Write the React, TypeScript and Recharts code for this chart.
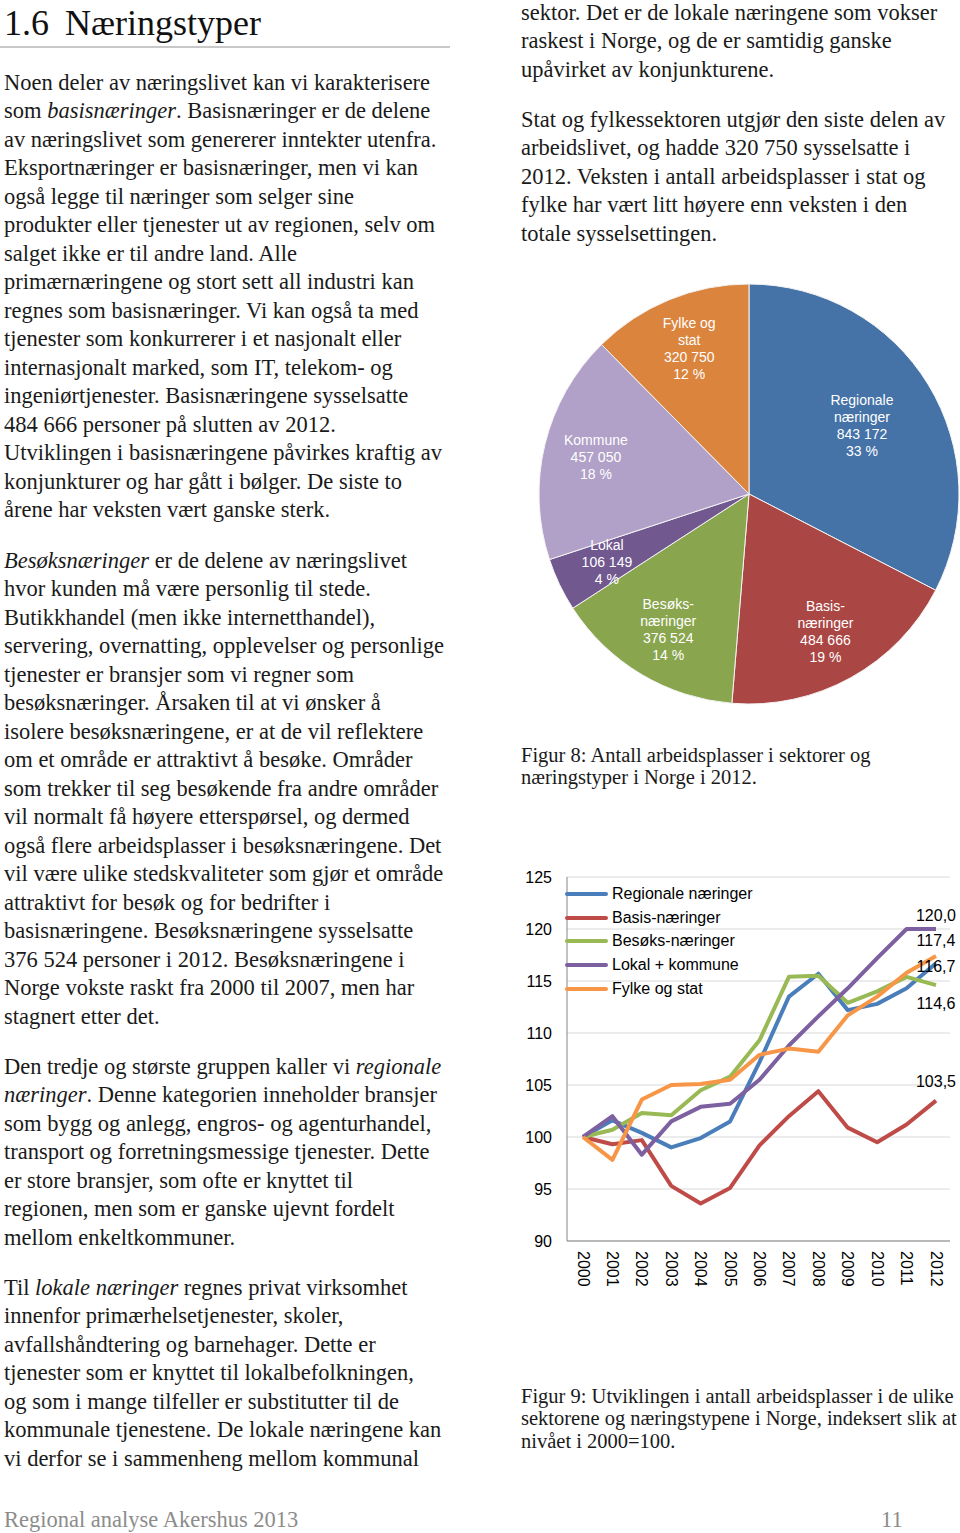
import { LineChart, Line, XAxis, YAxis, CartesianGrid, Legend, PieChart, Pie, Cell } from 'recharts';

// Figur 8: arbeidsplasser per sektor 2012
const sectorNames = ['Regionale næringer', 'Basis-næringer', 'Besøks-næringer', 'Lokal', 'Kommune', 'Fylke og stat'];
const sectorLabelLines = [['Regionale', 'næringer'], ['Basis-', 'næringer'], ['Besøks-', 'næringer'], ['Lokal'], ['Kommune'], ['Fylke og', 'stat']];
const sectorJobs = [843172, 484666, 376524, 106149, 457050, 320750];
const sectorShares = ['33 %', '19 %', '14 %', '4 %', '18 %', '12 %'];
const sectorColors = ['#4572a7', '#aa4643', '#89a54e', '#71588f', '#b1a0c7', '#db843d'];

// Figur 9: indeks 2000=100
const years = ['2000', '2001', '2002', '2003', '2004', '2005', '2006', '2007', '2008', '2009', '2010', '2011', '2012'];
const regionale = [100, 101.6, 100.4, 99.0, 99.9, 101.5, 107.2, 113.5, 115.7, 112.2, 112.8, 114.3, 116.7];
const basis = [100, 99.3, 99.7, 95.3, 93.6, 95.1, 99.2, 102.0, 104.4, 100.9, 99.5, 101.2, 103.5];
const besoks = [100, 100.7, 102.3, 102.1, 104.5, 105.8, 109.3, 115.4, 115.5, 112.9, 114.0, 115.4, 114.6];
const lokalKommune = [100, 102.0, 98.3, 101.5, 102.9, 103.2, 105.5, 108.8, 111.6, 114.3, 117.2, 120.0, 120.0];
const fylkeStat = [100, 97.8, 103.6, 105.0, 105.1, 105.5, 107.9, 108.5, 108.2, 111.7, 113.5, 115.8, 117.4];
const yTicks = [90, 95, 100, 105, 110, 115, 120, 125];

const leftText1 = [
  'Noen deler av næringslivet kan vi karakterisere',
  'som *basisnæringer*. Basisnæringer er de delene',
  'av næringslivet som genererer inntekter utenfra.',
  'Eksportnæringer er basisnæringer, men vi kan',
  'også legge til næringer som selger sine',
  'produkter eller tjenester ut av regionen, selv om',
  'salget ikke er til andre land. Alle',
  'primærnæringene og stort sett all industri kan',
  'regnes som basisnæringer. Vi kan også ta med',
  'tjenester som konkurrerer i et nasjonalt eller',
  'internasjonalt marked, som IT, telekom- og',
  'ingeniørtjenester. Basisnæringene sysselsatte',
  '484 666 personer på slutten av 2012.',
  'Utviklingen i basisnæringene påvirkes kraftig av',
  'konjunkturer og har gått i bølger. De siste to',
  'årene har veksten vært ganske sterk.',
];
const leftText2 = [
  '*Besøksnæringer* er de delene av næringslivet',
  'hvor kunden må være personlig til stede.',
  'Butikkhandel (men ikke internetthandel),',
  'servering, overnatting, opplevelser og personlige',
  'tjenester er bransjer som vi regner som',
  'besøksnæringer. Årsaken til at vi ønsker å',
  'isolere besøksnæringene, er at de vil reflektere',
  'om et område er attraktivt å besøke. Områder',
  'som trekker til seg besøkende fra andre områder',
  'vil normalt få høyere etterspørsel, og dermed',
  'også flere arbeidsplasser i besøksnæringene. Det',
  'vil være ulike stedskvaliteter som gjør et område',
  'attraktivt for besøk og for bedrifter i',
  'basisnæringene. Besøksnæringene sysselsatte',
  '376 524 personer i 2012. Besøksnæringene i',
  'Norge vokste raskt fra 2000 til 2007, men har',
  'stagnert etter det.',
];
const leftText3 = [
  'Den tredje og største gruppen kaller vi *regionale*',
  '*næringer*. Denne kategorien inneholder bransjer',
  'som bygg og anlegg, engros- og agenturhandel,',
  'transport og forretningsmessige tjenester. Dette',
  'er store bransjer, som ofte er knyttet til',
  'regionen, men som er ganske ujevnt fordelt',
  'mellom enkeltkommuner.',
];
const leftText4 = [
  'Til *lokale næringer* regnes privat virksomhet',
  'innenfor primærhelsetjenester, skoler,',
  'avfallshåndtering og barnehager. Dette er',
  'tjenester som er knyttet til lokalbefolkningen,',
  'og som i mange tilfeller er substitutter til de',
  'kommunale tjenestene. De lokale næringene kan',
  'vi derfor se i sammenheng mellom kommunal',
];
const rightText1 = [
  'sektor. Det er de lokale næringene som vokser',
  'raskest i Norge, og de er samtidig ganske',
  'upåvirket av konjunkturene.',
];
const rightText2 = [
  'Stat og fylkessektoren utgjør den siste delen av',
  'arbeidslivet, og hadde 320 750 sysselsatte i',
  '2012. Veksten i antall arbeidsplasser i stat og',
  'fylke har vært litt høyere enn veksten i den',
  'totale sysselsettingen.',
];
const caption8 = ['Figur 8: Antall arbeidsplasser i sektorer og', 'næringstyper i Norge i 2012.'];
const caption9 = [
  'Figur 9: Utviklingen i antall arbeidsplasser i de ulike',
  'sektorene og næringstypene i Norge, indeksert slik at',
  'nivået i 2000=100.',
];

const pieData = sectorNames.map((name, i) => ({ name, value: sectorJobs[i] }));
const lineData = years.map((year, i) => ({
  year,
  regionale: regionale[i],
  basis: basis[i],
  besoks: besoks[i],
  lokalKommune: lokalKommune[i],
  fylkeStat: fylkeStat[i],
}));

const series = [
  { key: 'regionale', name: 'Regionale næringer', color: '#4a7ebb', labelDy: 3 },
  { key: 'basis', name: 'Basis-næringer', color: '#be4b48', labelDy: -19 },
  { key: 'besoks', name: 'Besøks-næringer', color: '#98b954', labelDy: 18 },
  { key: 'lokalKommune', name: 'Lokal + kommune', color: '#7d60a0', labelDy: -14 },
  { key: 'fylkeStat', name: 'Fylke og stat', color: '#f79646', labelDy: -16 },
];

const SANS = '"Liberation Sans", Arial, sans-serif';
const SERIF = '"Liberation Serif", "Times New Roman", serif';
const RAD = Math.PI / 180;

const fmtThousands = (n: number) => String(n).replace(/\B(?=(\d{3})+(?!\d))/g, ' ');

function rich(s: string) {
  return s.split('*').map((p, i) => (i % 2 ? <i key={i}>{p}</i> : <span key={i}>{p}</span>));
}

function TextBlock({ x, y, lines, size = 22.5, lh = 28.5, color = '#1a1a1a' }: any) {
  return (
    <div style={{ position: 'absolute', left: x, top: y - lh / 2 + 1, fontSize: size, lineHeight: `${lh}px`, color, whiteSpace: 'nowrap' }}>
      {lines.map((l: string, i: number) => (
        <div key={i}>{rich(l)}</div>
      ))}
    </div>
  );
}

const renderPieLabel = (props: any) => {
  const { cx, cy, midAngle, outerRadius, index, percent } = props;
  // big slice gets its label a bit closer to the centre, like Excel's best fit
  const r = outerRadius * (percent > 0.3 ? 0.63 : 0.75);
  const x = cx + r * Math.cos(-midAngle * RAD);
  const y = cy + r * Math.sin(-midAngle * RAD);
  const lines = [...sectorLabelLines[index], fmtThousands(sectorJobs[index]), sectorShares[index]];
  const start = y - ((lines.length - 1) * 17) / 2;
  return (
    <text key={index} x={x} y={start} fill="#fff" fontSize={14} fontFamily={SANS} textAnchor="middle" dominantBaseline="central">
      {lines.map((l, i) => (
        <tspan key={i} x={x} y={start + i * 17}>{l}</tspan>
      ))}
    </text>
  );
};

const YearTick = ({ x, y, payload }: any) => (
  <text x={x} y={y} transform={`rotate(90, ${x}, ${y})`} fontSize={16} fontFamily={SANS} fill="#000" textAnchor="start" dominantBaseline="central">
    {payload.value}
  </text>
);

const renderLegend = () => (
  <div style={{ fontFamily: SANS, fontSize: 16, color: '#000' }}>
    {series.map((s) => (
      <div key={s.key} style={{ display: 'flex', alignItems: 'center', height: 23.8 }}>
        <span style={{ display: 'inline-block', width: 43, height: 4, background: s.color, borderRadius: 2, marginRight: 4 }} />
        <span>{s.name}</span>
      </div>
    ))}
  </div>
);

const makeEndLabel = (key: string, dy: number) => (props: any) => {
  const { cx, cy, index, payload } = props;
  if (index !== years.length - 1) return <g key={`${key}-${index}`} />;
  return (
    <text key={`${key}-${index}`} x={cx} y={cy + dy} fontSize={16} fontFamily={SANS} fill="#000" textAnchor="middle" dominantBaseline="central">
      {payload[key].toFixed(1).replace('.', ',')}
    </text>
  );
};

export default function App() {
  return (
    <div style={{ position: 'absolute', left: 0, top: 0, width: 960, height: 1533, background: '#fff', overflow: 'hidden', fontFamily: SERIF }}>
      <div style={{ position: 'absolute', left: 4, top: 1, fontSize: 36, lineHeight: '44px', color: '#111', whiteSpace: 'nowrap' }}>
        <span>1.6</span>
        <span style={{ position: 'absolute', left: 61 }}>Næringstyper</span>
      </div>
      <div style={{ position: 'absolute', left: 0, top: 46, width: 450, height: 2, background: '#c8c8c8' }} />

      <TextBlock x={4} y={82} lines={leftText1} />
      <TextBlock x={4} y={560} lines={leftText2} />
      <TextBlock x={4} y={1066} lines={leftText3} />
      <TextBlock x={4} y={1287} lines={leftText4} />
      <TextBlock x={521} y={12} lines={rightText1} />
      <TextBlock x={521} y={119} lines={rightText2} />
      <TextBlock x={521} y={754} lines={caption8} size={20.5} lh={22.5} />
      <TextBlock x={521} y={1395} lines={caption9} size={20.5} lh={22.5} />

      <div style={{ position: 'absolute', left: 4, top: 1507, fontSize: 22.5, color: '#8c8c8c', whiteSpace: 'nowrap' }}>Regional analyse Akershus 2013</div>
      <div style={{ position: 'absolute', left: 881, top: 1507, fontSize: 22.5, color: '#8c8c8c' }}>11</div>

      <div style={{ position: 'absolute', left: 529, top: 274 }}>
        <PieChart width={440} height={440} margin={{ top: 0, right: 0, bottom: 0, left: 0 }}>
          <Pie
            data={pieData}
            dataKey="value"
            nameKey="name"
            cx="50%"
            cy="50%"
            outerRadius={210}
            startAngle={90}
            endAngle={-270}
            stroke="#f4f4f4"
            strokeWidth={1}
            label={renderPieLabel}
            labelLine={false}
            isAnimationActive={false}
          >
            {pieData.map((d, i) => (
              <Cell key={d.name} fill={sectorColors[i]} />
            ))}
          </Pie>
        </PieChart>
      </div>

      <div style={{ position: 'absolute', left: 510, top: 860 }}>
        <LineChart width={450} height={450} data={lineData} margin={{ top: 17, right: 10, bottom: 0, left: 0 }}>
          <CartesianGrid vertical={false} stroke="#d9d9d9" />
          <XAxis
            dataKey="year"
            height={69}
            padding={{ left: 16, right: 14 }}
            axisLine={{ stroke: '#868686' }}
            tickLine={false}
            tickSize={0}
            tickMargin={10}
            interval={0}
            tick={<YearTick />}
          />
          <YAxis
            domain={[90, 125]}
            ticks={yTicks}
            width={57}
            axisLine={{ stroke: '#868686' }}
            tickLine={false}
            tickSize={0}
            tickMargin={15}
            tick={{ fontSize: 16, fontFamily: SANS, fill: '#000' }}
          />
          <Legend
            layout="vertical"
            align="center"
            verticalAlign="middle"
            content={renderLegend}
            wrapperStyle={{ top: 22, left: 55, width: 'auto' }}
          />
          {series.map((s) => (
            <Line
              key={s.key}
              type="linear"
              dataKey={s.key}
              name={s.name}
              stroke={s.color}
              strokeWidth={4}
              strokeLinejoin="round"
              dot={makeEndLabel(s.key, s.labelDy)}
              activeDot={false}
              isAnimationActive={false}
            />
          ))}
        </LineChart>
      </div>
    </div>
  );
}
